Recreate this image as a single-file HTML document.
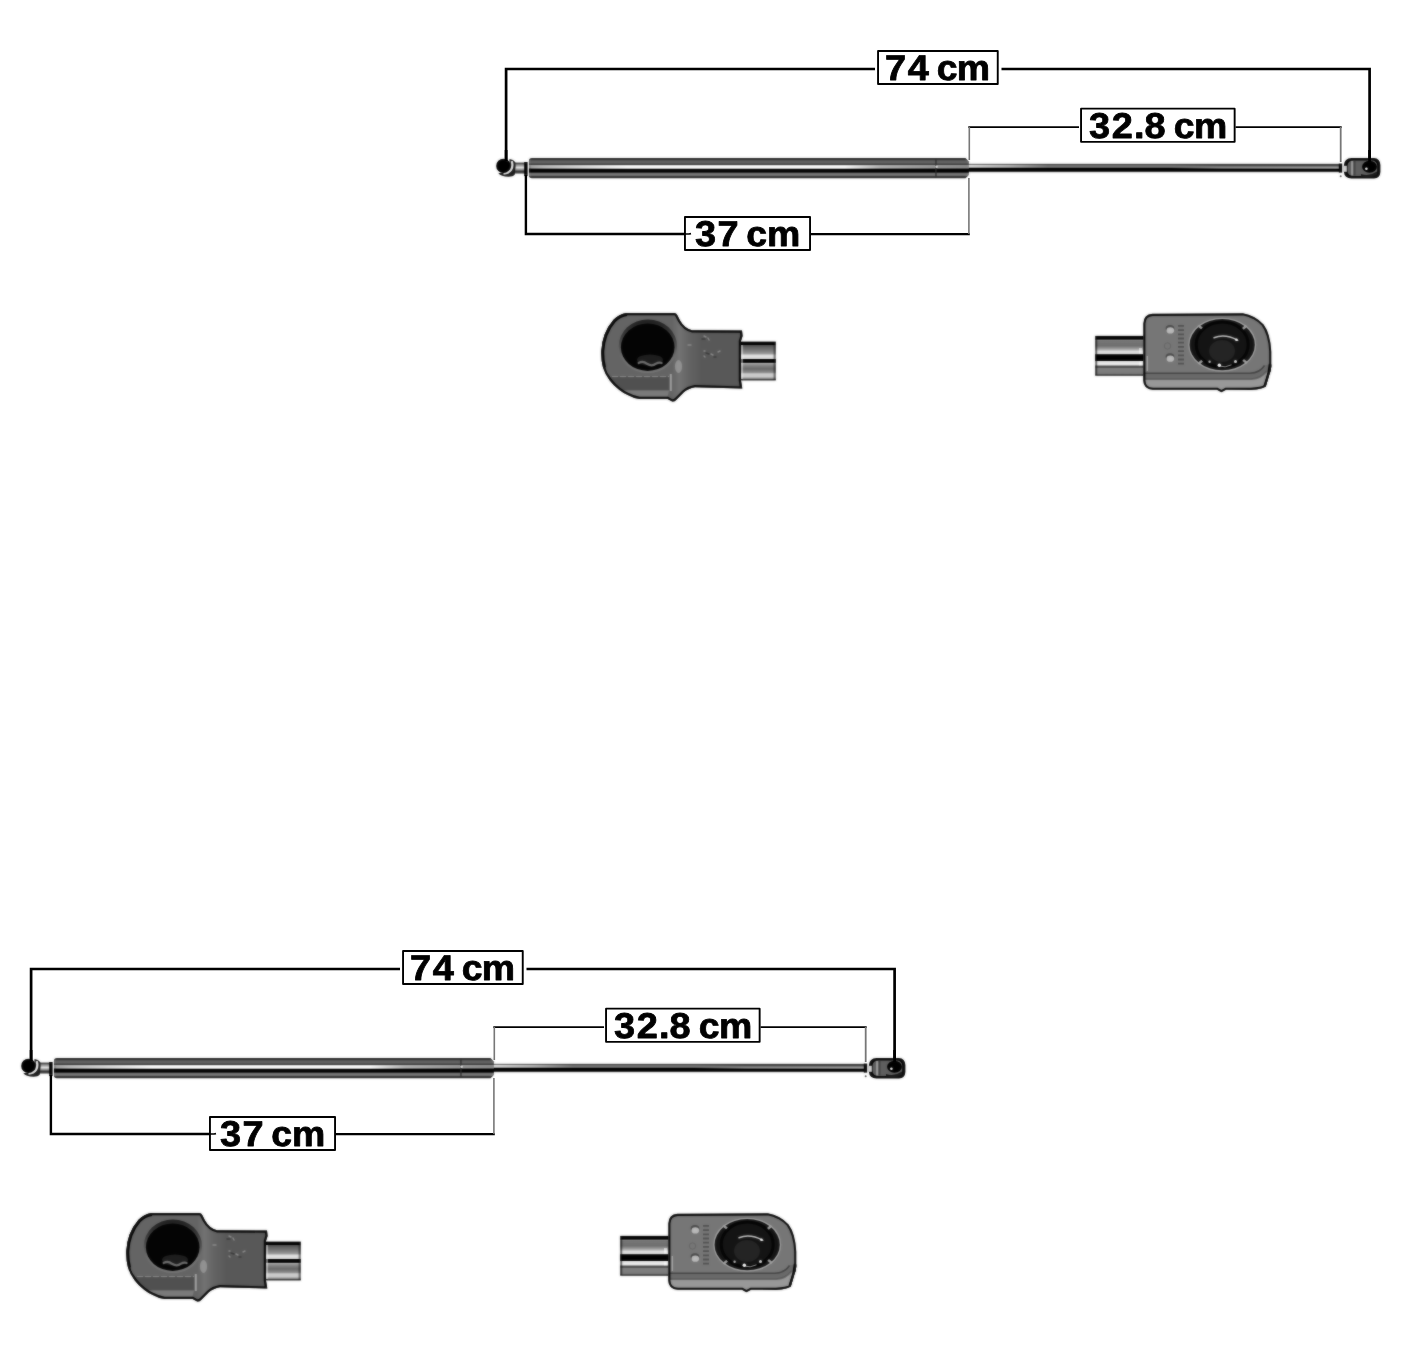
<!DOCTYPE html>
<html lang="es">
<head>
<meta charset="utf-8">
<title>74 cm</title>
<style>
  html,body{margin:0;padding:0;background:#fff;overflow:hidden;}
  body{width:1404px;height:1352px;position:relative;font-family:"Liberation Sans",sans-serif;}
  svg{position:absolute;left:0;top:0;display:block;}
  .lbl{font-family:"Liberation Sans",sans-serif;font-weight:700;font-size:35.8px;fill:#000;stroke:#000;stroke-width:0.8;stroke-linejoin:round;text-rendering:geometricPrecision;}
  .lbl .u{font-size:35.3px;}
</style>
</head>
<body>
<svg width="1404" height="1352" viewBox="0 0 1404 1352">
  <defs>
    <linearGradient id="gTube" x1="0" y1="0" x2="0" y2="1">
      <stop offset="0" stop-color="#303030"/>
      <stop offset="0.05" stop-color="#2a2a2a"/>
      <stop offset="0.09" stop-color="#3a3a3a"/>
      <stop offset="0.13" stop-color="#606060"/>
      <stop offset="0.23" stop-color="#646464"/>
      <stop offset="0.28" stop-color="#4a4a4a"/>
      <stop offset="0.34" stop-color="#3a3a3a"/>
      <stop offset="0.36" stop-color="#8c8c8c"/>
      <stop offset="0.50" stop-color="#8c8c8c"/>
      <stop offset="0.535" stop-color="#000"/>
      <stop offset="0.70" stop-color="#000"/>
      <stop offset="0.74" stop-color="#666"/>
      <stop offset="0.80" stop-color="#7a7a7a"/>
      <stop offset="0.87" stop-color="#6c6c6c"/>
      <stop offset="0.92" stop-color="#303030"/>
      <stop offset="1" stop-color="#2a2a2a"/>
    </linearGradient>
    <linearGradient id="gHi" x1="0" y1="0" x2="1" y2="0">
      <stop offset="0" stop-color="#fff" stop-opacity="0.2"/>
      <stop offset="0.03" stop-color="#fff" stop-opacity="0.4"/>
      <stop offset="0.12" stop-color="#fff" stop-opacity="0.7"/>
      <stop offset="0.22" stop-color="#fff" stop-opacity="1"/>
      <stop offset="0.72" stop-color="#fff" stop-opacity="1"/>
      <stop offset="0.80" stop-color="#fff" stop-opacity="0.35"/>
      <stop offset="0.92" stop-color="#fff" stop-opacity="0.1"/>
      <stop offset="1" stop-color="#fff" stop-opacity="0"/>
    </linearGradient>
    <linearGradient id="gRod" x1="0" y1="0" x2="0" y2="1">
      <stop offset="0" stop-color="#555"/>
      <stop offset="0.12" stop-color="#444"/>
      <stop offset="0.24" stop-color="#777"/>
      <stop offset="0.42" stop-color="#7c7c7c"/>
      <stop offset="0.50" stop-color="#000"/>
      <stop offset="0.84" stop-color="#000"/>
      <stop offset="1" stop-color="#777"/>
    </linearGradient>
    <linearGradient id="gRodA" x1="0" y1="0" x2="1" y2="0">
      <stop offset="0" stop-color="#e6e6e6" stop-opacity="0.9"/>
      <stop offset="0.5" stop-color="#ddd" stop-opacity="0.6"/>
      <stop offset="1" stop-color="#ddd" stop-opacity="0"/>
    </linearGradient>
    <linearGradient id="gRodB" x1="0" y1="0" x2="1" y2="0">
      <stop offset="0" stop-color="#aaa" stop-opacity="0"/>
      <stop offset="0.3" stop-color="#aaa" stop-opacity="0.6"/>
      <stop offset="1" stop-color="#b0b0b0" stop-opacity="0.8"/>
    </linearGradient>
    <linearGradient id="gRodC" x1="0" y1="0" x2="1" y2="0">
      <stop offset="0" stop-color="#333" stop-opacity="0"/>
      <stop offset="0.3" stop-color="#333" stop-opacity="0.6"/>
      <stop offset="1" stop-color="#333" stop-opacity="0.7"/>
    </linearGradient>
    <linearGradient id="gNeck" x1="0" y1="0" x2="0" y2="1">
      <stop offset="0" stop-color="#222"/>
      <stop offset="0.2" stop-color="#888"/>
      <stop offset="0.45" stop-color="#e0e0e0"/>
      <stop offset="0.62" stop-color="#999"/>
      <stop offset="0.8" stop-color="#333"/>
      <stop offset="1" stop-color="#555"/>
    </linearGradient>
    <linearGradient id="gPipe" x1="0" y1="0" x2="0" y2="1">
      <stop offset="0" stop-color="#111"/>
      <stop offset="0.10" stop-color="#222"/>
      <stop offset="0.16" stop-color="#888"/>
      <stop offset="0.30" stop-color="#9a9a9a"/>
      <stop offset="0.40" stop-color="#d8d8d8"/>
      <stop offset="0.47" stop-color="#444"/>
      <stop offset="0.53" stop-color="#111"/>
      <stop offset="0.58" stop-color="#777"/>
      <stop offset="0.70" stop-color="#9a9a9a"/>
      <stop offset="0.85" stop-color="#b5b5b5"/>
      <stop offset="0.95" stop-color="#888"/>
      <stop offset="1" stop-color="#555"/>
    </linearGradient>
    <filter id="soft" x="-5%" y="-5%" width="110%" height="110%" color-interpolation-filters="sRGB"><feGaussianBlur stdDeviation="0.8" result="b"/><feComposite in="b" in2="SourceGraphic" operator="arithmetic" k1="0" k2="0.55" k3="0.45" k4="0"/></filter>
    <filter id="softF" x="-10%" y="-10%" width="120%" height="120%" color-interpolation-filters="sRGB"><feGaussianBlur stdDeviation="0.8"/></filter>
    <filter id="soft2" x="-5%" y="-20%" width="110%" height="140%" color-interpolation-filters="sRGB"><feGaussianBlur stdDeviation="0.8" result="b"/><feComposite in="b" in2="SourceGraphic" operator="arithmetic" k1="0" k2="0.5" k3="0.5" k4="0"/></filter>


    <linearGradient id="gPipeL" x1="0" y1="0" x2="0" y2="1">
      <stop offset="0" stop-color="#000"/>
      <stop offset="0.085" stop-color="#000"/>
      <stop offset="0.10" stop-color="#555"/>
      <stop offset="0.20" stop-color="#707070"/>
      <stop offset="0.31" stop-color="#999"/>
      <stop offset="0.35" stop-color="#ddd"/>
      <stop offset="0.44" stop-color="#e2e2e2"/>
      <stop offset="0.455" stop-color="#000"/>
      <stop offset="0.535" stop-color="#000"/>
      <stop offset="0.55" stop-color="#c0c0c0"/>
      <stop offset="0.60" stop-color="#888"/>
      <stop offset="0.70" stop-color="#6a6a6a"/>
      <stop offset="0.79" stop-color="#888"/>
      <stop offset="0.83" stop-color="#ccc"/>
      <stop offset="0.91" stop-color="#c8c8c8"/>
      <stop offset="0.95" stop-color="#888"/>
      <stop offset="0.975" stop-color="#333"/>
      <stop offset="1" stop-color="#333"/>
    </linearGradient>
    <linearGradient id="gPipeR" x1="0" y1="0" x2="0" y2="1">
      <stop offset="0" stop-color="#000"/>
      <stop offset="0.085" stop-color="#000"/>
      <stop offset="0.10" stop-color="#9a9a9a"/>
      <stop offset="0.14" stop-color="#747474"/>
      <stop offset="0.25" stop-color="#6e6e6e"/>
      <stop offset="0.33" stop-color="#a0a0a0"/>
      <stop offset="0.39" stop-color="#dcdcdc"/>
      <stop offset="0.45" stop-color="#e4e4e4"/>
      <stop offset="0.47" stop-color="#000"/>
      <stop offset="0.62" stop-color="#000"/>
      <stop offset="0.64" stop-color="#ececec"/>
      <stop offset="0.73" stop-color="#e8e8e8"/>
      <stop offset="0.755" stop-color="#4a4a4a"/>
      <stop offset="0.79" stop-color="#4e4e4e"/>
      <stop offset="0.81" stop-color="#808080"/>
      <stop offset="0.95" stop-color="#7a7a7a"/>
      <stop offset="0.975" stop-color="#333"/>
      <stop offset="1" stop-color="#222"/>
    </linearGradient>
    <linearGradient id="gRing" x1="0" y1="0" x2="0" y2="1">
      <stop offset="0" stop-color="#1e1e1e"/>
      <stop offset="0.3" stop-color="#3a3a3a"/>
      <stop offset="0.7" stop-color="#707070"/>
      <stop offset="1" stop-color="#787878"/>
    </linearGradient>
    <clipPath id="cL"><path d="M626.8 313.1 H674.5 Q676.5 313.3 677.5 315.5 L680 320.5 Q684.5 328.5 692 330.2 L742 330.5 L742.6 336 L741 341 V380.5 L742.3 388.6 L695 387.2 Q688 388.5 683.8 392.3 L676.4 399.7 Q674 402.3 671.5 401.3 L667.5 399 H639.4 Q633 398 628.3 395.2 Q623 393 619.4 390 Q613.5 385.5 609.8 380.4 Q605 374.5 603.1 367.9 Q601 360 601.3 350.9 Q601.8 342 604.6 334.6 Q608 326 613.5 319.8 Q619 314.2 626.8 313.1 Z"/></clipPath>
    <clipPath id="cR"><path d="M1152.5 313.8 L1242.9 313.3 Q1249 314.5 1254 317 Q1259.5 320 1263.6 324.4 Q1267 329 1268.8 335.5 Q1271 343 1271.3 351.8 V366.6 Q1271 371 1269.5 374 L1265.8 386.5 Q1262 389.5 1251 389.9 L1226 389.8 L1221.4 392.3 L1217 389.8 H1153 Q1143.6 389.3 1143.3 380.5 V323.5 Q1143.6 314.3 1152.5 313.8 Z"/></clipPath>

    <linearGradient id="gShank" gradientUnits="userSpaceOnUse" x1="672" y1="0" x2="702" y2="0">
      <stop offset="0" stop-color="#646464"/>
      <stop offset="0.25" stop-color="#727272"/>
      <stop offset="0.55" stop-color="#646464"/>
      <stop offset="1" stop-color="#585858"/>
    </linearGradient>
  </defs>

  <!-- first diagram -->
  <g>
    <g>
      <!-- dimension lines -->
      <path d="M506.1 161 V69 H875" fill="none" stroke="#000" stroke-width="2.7"/>
      <path d="M1001.5 69 H1369.6 V162" fill="none" stroke="#000" stroke-width="2.7"/>
      <path d="M968.3 127.1 H1079" fill="none" stroke="#000" stroke-width="1.9"/>
      <path d="M1235.6 127.15 H1341.7" fill="none" stroke="#000" stroke-width="1.9"/>
      <path d="M969.3 127 V160" fill="none" stroke="#777" stroke-width="1.6"/>
      <path d="M1340.7 127 V162" fill="none" stroke="#777" stroke-width="1.8"/>
      <path d="M525.9 175 V234 H690" fill="none" stroke="#000" stroke-width="2.4"/>
      <path d="M811 234.05 H969.8" fill="none" stroke="#000" stroke-width="2.2"/>
      <path d="M968.9 178 V234" fill="none" stroke="#777" stroke-width="1.6"/>
      <!-- strut body -->
      <g filter="url(#soft2)">
        <rect x="966" y="163.8" width="376" height="8.4" fill="url(#gRod)"/>
        <rect x="968" y="164.7" width="80" height="2.8" fill="url(#gRodA)"/>
        <rect x="1170" y="164" width="170" height="2.4" fill="url(#gRodC)"/>
        <rect x="1170" y="166.7" width="170" height="2.1" fill="url(#gRodB)"/>
        <rect x="1338.8" y="163.6" width="3.4" height="9" fill="#0a0a0a"/>
        <circle cx="1340.7" cy="176.3" r="1" fill="#555"/>
        <path d="M532 158.1 H965.5 L968.9 161.5 V175 L965.5 178.2 H532 Q528.9 178.2 528.9 175 V161.3 Q528.9 158.1 532 158.1 Z" fill="url(#gTube)"/>
        <rect x="531" y="165.3" width="436" height="3.3" fill="url(#gHi)"/>
        <rect x="935.2" y="158.6" width="1.5" height="19.2" fill="#2a2a2a" opacity="0.8"/>
        <circle cx="936.6" cy="166.8" r="1.3" fill="#ddd"/>
        <!-- ball joint -->
        <rect x="514" y="162.6" width="11" height="11" fill="url(#gNeck)"/>
        <rect x="524.2" y="162" width="3.4" height="14" fill="#000"/>
        <path d="M509.5 159 Q513.6 159.4 515.3 162.2 L515.6 166 L514.8 174.6 Q513 176.8 508.5 176.8 Q501 176.4 498.3 173.2 L509 172 Z" fill="#1c1c1c"/>
        <path d="M511.6 161.2 Q513.4 165.5 511.2 169.6 Q508.8 173.2 503.5 173.6" fill="none" stroke="#e4e4e4" stroke-width="2.2"/>
        <circle cx="503.4" cy="165.9" r="7.2" fill="#000"/>
        <!-- eye end -->
        <path d="M1351.5 158.1 H1374 Q1380 158.6 1380.4 165 V172 Q1380 178.2 1374 178.6 H1351.5 Q1344.4 178 1343.9 172 V165 Q1344.4 158.6 1351.5 158.1 Z" fill="#0a0a0a"/>
        <rect x="1347.6" y="160.5" width="29.6" height="15.4" rx="5" fill="#5e5e5e"/>
        <rect x="1351.2" y="161" width="1.7" height="14.4" fill="#a0a0a0"/>
        <rect x="1354" y="161" width="1.5" height="14.4" fill="#444"/>
        <path d="M1361 174 Q1369 177 1377 171.5 L1377.5 175 Q1370 178.5 1361 176.5 Z" fill="#1a1a1a"/>
        <ellipse cx="1369.5" cy="166.8" rx="7.4" ry="6" fill="#000"/>
        <circle cx="1366.4" cy="168.8" r="1.3" fill="#f4f4f4"/>
        <rect x="1342.6" y="165.8" width="4.2" height="6" fill="#d0d0d0"/>
      </g>
      <path d="M506.1 161 V150" fill="none" stroke="#000" stroke-width="2.7"/>
      <path d="M1369.6 162 V150" fill="none" stroke="#000" stroke-width="2.7"/>
    </g>
    <g filter="url(#soft)">
      <g>
      <rect x="739.5" y="341.6" width="36.3" height="38.9" fill="url(#gPipeL)"/>
      <rect x="773.6" y="345" width="2.2" height="35" fill="#000" opacity="0.45"/>
      <rect x="740" y="345" width="3" height="34" fill="#fff" opacity="0.45"/>
      </g>
      <g clip-path="url(#cL)">
        <path d="M626.8 313.1 H674.5 Q676.5 313.3 677.5 315.5 L680 320.5 Q684.5 328.5 692 330.2 L742 330.5 L742.6 336 L741 341 V380.5 L742.3 388.6 L695 387.2 Q688 388.5 683.8 392.3 L676.4 399.7 Q674 402.3 671.5 401.3 L667.5 399 H639.4 Q633 398 628.3 395.2 Q623 393 619.4 390 Q613.5 385.5 609.8 380.4 Q605 374.5 603.1 367.9 Q601 360 601.3 350.9 Q601.8 342 604.6 334.6 Q608 326 613.5 319.8 Q619 314.2 626.8 313.1 Z" fill="#646464"/>
        <rect x="672" y="312" width="72" height="92" fill="url(#gShank)"/>
        <path d="M606 377 H669.5 V390.2 H616 Z" fill="#505050"/>
        <path d="M616 390.5 H669 L667 399 H636 Q624 396 616 390.5 Z" fill="#7a7a7a"/>
        <path d="M612 376.6 H669" fill="none" stroke="#8a8a8a" stroke-width="1" stroke-dasharray="6 2"/>
        <path d="M670.8 374 V391" fill="none" stroke="#a0a0a0" stroke-width="2"/>
        <path d="M605.5 370 Q611 386 627 393.5" fill="none" stroke="#909090" stroke-width="1.8"/>
        <ellipse cx="678.5" cy="366.5" rx="3.6" ry="6.5" fill="#a0a0a0" opacity="0.7"/>
        <path d="M704 336 l2 1 M708 338 l1 2 M688 345 l3 0 M704 351 l1 0 M704 356 l1 1 M711 354 l2 1 M718 352 l2 -1" fill="none" stroke="#8a8a8a" stroke-width="1.4" stroke-linecap="round"/>
        <path d="M702 339 l3 0 M706 353 l3 1 M714 357 l2 0" fill="none" stroke="#3c3c3c" stroke-width="1.4" stroke-linecap="round"/>
        <path d="M626.8 313.1 H674.5 Q676.5 313.3 677.5 315.5 L680 320.5 Q684.5 328.5 692 330.2 L742 330.5 L742.6 336 L741 341 V380.5 L742.3 388.6 L695 387.2 Q688 388.5 683.8 392.3 L676.4 399.7 Q674 402.3 671.5 401.3 L667.5 399 H639.4 Q633 398 628.3 395.2 Q623 393 619.4 390 Q613.5 385.5 609.8 380.4 Q605 374.5 603.1 367.9 Q601 360 601.3 350.9 Q601.8 342 604.6 334.6 Q608 326 613.5 319.8 Q619 314.2 626.8 313.1 Z" fill="none" stroke="#080808" stroke-width="4.4"/>
        <path d="M626.8 313.1 Q619 314.2 613.5 319.8 Q608 326 604.6 334.6 Q601.8 342 601.3 350.9 Q601 360 603.1 367.9" fill="none" stroke="#080808" stroke-width="6"/>
      </g>
      <ellipse cx="647.9" cy="346.2" rx="29.2" ry="26.8" fill="url(#gRing)"/>
      <ellipse cx="647.7" cy="347.2" rx="26.8" ry="23.7" fill="#040404"/>
      <ellipse cx="650" cy="360" rx="13" ry="5.5" fill="#1e1e1e"/>
      <path d="M638.6 363 Q643 360.3 647 363.8 Q652 367 656 363.6 Q659 362 661.6 363" fill="none" stroke="#6e6e6e" stroke-width="2.2" stroke-linecap="round"/>
    </g>
    <g filter="url(#soft)">
      <g>
      <rect x="1095.2" y="335.9" width="48.5" height="39.9" fill="url(#gPipeR)"/>
      <rect x="1095.2" y="339" width="2" height="36" fill="#000" opacity="0.55"/>
      <rect x="1139" y="348" width="3.2" height="6" fill="#fff" opacity="0.55"/>
      <rect x="1139" y="361" width="3.2" height="4.4" fill="#fff" opacity="0.6"/>
      </g>
      <g clip-path="url(#cR)">
        <path d="M1152.5 313.8 L1242.9 313.3 Q1249 314.5 1254 317 Q1259.5 320 1263.6 324.4 Q1267 329 1268.8 335.5 Q1271 343 1271.3 351.8 V366.6 Q1271 371 1269.5 374 L1265.8 386.5 Q1262 389.5 1251 389.9 L1226 389.8 L1221.4 392.3 L1217 389.8 H1153 Q1143.6 389.3 1143.3 380.5 V323.5 Q1143.6 314.3 1152.5 313.8 Z" fill="#767676"/>
        <path d="M1143 373.2 H1250 Q1260 373 1265 365 L1272 365 V392 H1143 Z" fill="#6a6a6a"/>
        <path d="M1143 380 H1252 Q1262 379 1267 372 L1272 372 V392 H1143 Z" fill="#989898"/>
        <path d="M1144 373.2 H1250 Q1260 373 1264.5 365.5" fill="none" stroke="#444" stroke-width="1.5"/>
        <path d="M1144 378.8 H1251 Q1261 378 1266 371" fill="none" stroke="#585858" stroke-width="1.1"/>
        <path d="M1147.3 356 V371" fill="none" stroke="#bdbdbd" stroke-width="1.4" opacity="0.7"/>
        <path d="M1181 325 V367" fill="none" stroke="#383838" stroke-width="6" stroke-dasharray="1.8 2.4" opacity="0.6"/>
        <ellipse cx="1170" cy="328.6" rx="4.4" ry="3.6" fill="#4a4a4a"/>
        <ellipse cx="1170.3" cy="330.4" rx="3.8" ry="3.1" fill="#b8b8b8"/>
        <ellipse cx="1170" cy="356.8" rx="4.4" ry="3.6" fill="#4a4a4a"/>
        <ellipse cx="1170.3" cy="358.7" rx="3.8" ry="3.1" fill="#b8b8b8"/>
        <circle cx="1167.5" cy="346" r="3.2" fill="none" stroke="#666" stroke-width="1"/>
        <path d="M1152.5 313.8 L1242.9 313.3 Q1249 314.5 1254 317 Q1259.5 320 1263.6 324.4 Q1267 329 1268.8 335.5 Q1271 343 1271.3 351.8 V366.6 Q1271 371 1269.5 374 L1265.8 386.5 Q1262 389.5 1251 389.9 L1226 389.8 L1221.4 392.3 L1217 389.8 H1153 Q1143.6 389.3 1143.3 380.5 V323.5 Q1143.6 314.3 1152.5 313.8 Z" fill="none" stroke="#080808" stroke-width="4.2"/>
        <path d="M1271 364 L1269.5 374 L1265.5 387" fill="none" stroke="#080808" stroke-width="4.5"/>
      </g>
      <ellipse cx="1222.2" cy="344.7" rx="34" ry="27" fill="#a2a2a2"/>
      <ellipse cx="1222.2" cy="344.7" rx="32.6" ry="25.6" fill="#141414"/>
      <path d="M1199.5 326.5 l3 2.4 M1245 327 l-3 2.6 M1246 362.3 l-3 -2.4 M1199.5 363 l3 -2.6" fill="none" stroke="#a0a0a0" stroke-width="2.4" stroke-linecap="round"/>
      <ellipse cx="1222.2" cy="344.5" rx="26" ry="22.5" fill="none" stroke="#050505" stroke-width="3"/>
      <ellipse cx="1222" cy="351" rx="13" ry="11" fill="#242424"/>
      <path d="M1214 337.7 Q1225 333.4 1237.7 340.3" fill="none" stroke="#c8c8c8" stroke-width="1.5" stroke-linecap="round"/>
      <circle cx="1236.4" cy="339.8" r="1.3" fill="#fff"/>
      <path d="M1219 366 Q1225 368.2 1231.5 364.8" fill="none" stroke="#999" stroke-width="1"/>
      <circle cx="1219.3" cy="365.3" r="1.7" fill="#fff"/>
      <circle cx="1235.5" cy="361.5" r="1.5" fill="#e0e0e0"/>
      <circle cx="1209.6" cy="361.8" r="1.2" fill="#bbb"/>
    </g>
    <g class="labels" opacity="0.999">
    <rect x="878.05" y="50.95" width="119.70" height="33.10" fill="#fff" stroke="#000" stroke-width="1.9" stroke-linejoin="round"/>
    <text class="lbl" transform="scale(1.060,1)" x="834.80 856.46 876.37 883.63 902.51" y="80">74 <tspan class="u">cm</tspan></text>
    <rect x="1081.05" y="108.65" width="153.60" height="33.20" fill="#fff" stroke="#000" stroke-width="1.9" stroke-linejoin="round"/>
    <text class="lbl" transform="scale(1.060,1)" x="1027.48 1048.74 1069.79 1079.72 1099.63 1107.36 1126.33" y="138">32.8 <tspan class="u">cm</tspan></text>
    <rect x="684.95" y="217.05" width="125.10" height="33.00" fill="#fff" stroke="#000" stroke-width="1.9" stroke-linejoin="round"/>
    <path d="M685 234.05 H689 L691 233.6" fill="none" stroke="#000" stroke-width="1.6"/>
    <text class="lbl" transform="scale(1.060,1)" x="655.68 676.94 696.85 704.10 723.50" y="246">37 <tspan class="u">cm</tspan></text>
    </g>
  </g>

  <!-- second diagram -->
  <g transform="translate(-475,900)">
    <g>
      <!-- dimension lines -->
      <path d="M506.1 161 V69 H875" fill="none" stroke="#000" stroke-width="2.7"/>
      <path d="M1001.5 69 H1369.6 V162" fill="none" stroke="#000" stroke-width="2.7"/>
      <path d="M968.3 127.1 H1079" fill="none" stroke="#000" stroke-width="1.9"/>
      <path d="M1235.6 127.15 H1341.7" fill="none" stroke="#000" stroke-width="1.9"/>
      <path d="M969.3 127 V160" fill="none" stroke="#777" stroke-width="1.6"/>
      <path d="M1340.7 127 V162" fill="none" stroke="#777" stroke-width="1.8"/>
      <path d="M525.9 175 V234 H690" fill="none" stroke="#000" stroke-width="2.4"/>
      <path d="M811 234.05 H969.8" fill="none" stroke="#000" stroke-width="2.2"/>
      <path d="M968.9 178 V234" fill="none" stroke="#777" stroke-width="1.6"/>
      <!-- strut body -->
      <g filter="url(#soft2)">
        <rect x="966" y="163.8" width="376" height="8.4" fill="url(#gRod)"/>
        <rect x="968" y="164.7" width="80" height="2.8" fill="url(#gRodA)"/>
        <rect x="1170" y="164" width="170" height="2.4" fill="url(#gRodC)"/>
        <rect x="1170" y="166.7" width="170" height="2.1" fill="url(#gRodB)"/>
        <rect x="1338.8" y="163.6" width="3.4" height="9" fill="#0a0a0a"/>
        <circle cx="1340.7" cy="176.3" r="1" fill="#555"/>
        <path d="M532 158.1 H965.5 L968.9 161.5 V175 L965.5 178.2 H532 Q528.9 178.2 528.9 175 V161.3 Q528.9 158.1 532 158.1 Z" fill="url(#gTube)"/>
        <rect x="531" y="165.3" width="436" height="3.3" fill="url(#gHi)"/>
        <rect x="935.2" y="158.6" width="1.5" height="19.2" fill="#2a2a2a" opacity="0.8"/>
        <circle cx="936.6" cy="166.8" r="1.3" fill="#ddd"/>
        <!-- ball joint -->
        <rect x="514" y="162.6" width="11" height="11" fill="url(#gNeck)"/>
        <rect x="524.2" y="162" width="3.4" height="14" fill="#000"/>
        <path d="M509.5 159 Q513.6 159.4 515.3 162.2 L515.6 166 L514.8 174.6 Q513 176.8 508.5 176.8 Q501 176.4 498.3 173.2 L509 172 Z" fill="#1c1c1c"/>
        <path d="M511.6 161.2 Q513.4 165.5 511.2 169.6 Q508.8 173.2 503.5 173.6" fill="none" stroke="#e4e4e4" stroke-width="2.2"/>
        <circle cx="503.4" cy="165.9" r="7.2" fill="#000"/>
        <!-- eye end -->
        <path d="M1351.5 158.1 H1374 Q1380 158.6 1380.4 165 V172 Q1380 178.2 1374 178.6 H1351.5 Q1344.4 178 1343.9 172 V165 Q1344.4 158.6 1351.5 158.1 Z" fill="#0a0a0a"/>
        <rect x="1347.6" y="160.5" width="29.6" height="15.4" rx="5" fill="#5e5e5e"/>
        <rect x="1351.2" y="161" width="1.7" height="14.4" fill="#a0a0a0"/>
        <rect x="1354" y="161" width="1.5" height="14.4" fill="#444"/>
        <path d="M1361 174 Q1369 177 1377 171.5 L1377.5 175 Q1370 178.5 1361 176.5 Z" fill="#1a1a1a"/>
        <ellipse cx="1369.5" cy="166.8" rx="7.4" ry="6" fill="#000"/>
        <circle cx="1366.4" cy="168.8" r="1.3" fill="#f4f4f4"/>
        <rect x="1342.6" y="165.8" width="4.2" height="6" fill="#d0d0d0"/>
      </g>
      <path d="M506.1 161 V150" fill="none" stroke="#000" stroke-width="2.7"/>
      <path d="M1369.6 162 V150" fill="none" stroke="#000" stroke-width="2.7"/>
    </g>
    <g filter="url(#soft)">
      <g>
      <rect x="739.5" y="341.6" width="36.3" height="38.9" fill="url(#gPipeL)"/>
      <rect x="773.6" y="345" width="2.2" height="35" fill="#000" opacity="0.45"/>
      <rect x="740" y="345" width="3" height="34" fill="#fff" opacity="0.45"/>
      </g>
      <g clip-path="url(#cL)">
        <path d="M626.8 313.1 H674.5 Q676.5 313.3 677.5 315.5 L680 320.5 Q684.5 328.5 692 330.2 L742 330.5 L742.6 336 L741 341 V380.5 L742.3 388.6 L695 387.2 Q688 388.5 683.8 392.3 L676.4 399.7 Q674 402.3 671.5 401.3 L667.5 399 H639.4 Q633 398 628.3 395.2 Q623 393 619.4 390 Q613.5 385.5 609.8 380.4 Q605 374.5 603.1 367.9 Q601 360 601.3 350.9 Q601.8 342 604.6 334.6 Q608 326 613.5 319.8 Q619 314.2 626.8 313.1 Z" fill="#646464"/>
        <rect x="672" y="312" width="72" height="92" fill="url(#gShank)"/>
        <path d="M606 377 H669.5 V390.2 H616 Z" fill="#505050"/>
        <path d="M616 390.5 H669 L667 399 H636 Q624 396 616 390.5 Z" fill="#7a7a7a"/>
        <path d="M612 376.6 H669" fill="none" stroke="#8a8a8a" stroke-width="1" stroke-dasharray="6 2"/>
        <path d="M670.8 374 V391" fill="none" stroke="#a0a0a0" stroke-width="2"/>
        <path d="M605.5 370 Q611 386 627 393.5" fill="none" stroke="#909090" stroke-width="1.8"/>
        <ellipse cx="678.5" cy="366.5" rx="3.6" ry="6.5" fill="#a0a0a0" opacity="0.7"/>
        <path d="M704 336 l2 1 M708 338 l1 2 M688 345 l3 0 M704 351 l1 0 M704 356 l1 1 M711 354 l2 1 M718 352 l2 -1" fill="none" stroke="#8a8a8a" stroke-width="1.4" stroke-linecap="round"/>
        <path d="M702 339 l3 0 M706 353 l3 1 M714 357 l2 0" fill="none" stroke="#3c3c3c" stroke-width="1.4" stroke-linecap="round"/>
        <path d="M626.8 313.1 H674.5 Q676.5 313.3 677.5 315.5 L680 320.5 Q684.5 328.5 692 330.2 L742 330.5 L742.6 336 L741 341 V380.5 L742.3 388.6 L695 387.2 Q688 388.5 683.8 392.3 L676.4 399.7 Q674 402.3 671.5 401.3 L667.5 399 H639.4 Q633 398 628.3 395.2 Q623 393 619.4 390 Q613.5 385.5 609.8 380.4 Q605 374.5 603.1 367.9 Q601 360 601.3 350.9 Q601.8 342 604.6 334.6 Q608 326 613.5 319.8 Q619 314.2 626.8 313.1 Z" fill="none" stroke="#080808" stroke-width="4.4"/>
        <path d="M626.8 313.1 Q619 314.2 613.5 319.8 Q608 326 604.6 334.6 Q601.8 342 601.3 350.9 Q601 360 603.1 367.9" fill="none" stroke="#080808" stroke-width="6"/>
      </g>
      <ellipse cx="647.9" cy="346.2" rx="29.2" ry="26.8" fill="url(#gRing)"/>
      <ellipse cx="647.7" cy="347.2" rx="26.8" ry="23.7" fill="#040404"/>
      <ellipse cx="650" cy="360" rx="13" ry="5.5" fill="#1e1e1e"/>
      <path d="M638.6 363 Q643 360.3 647 363.8 Q652 367 656 363.6 Q659 362 661.6 363" fill="none" stroke="#6e6e6e" stroke-width="2.2" stroke-linecap="round"/>
    </g>
    <g filter="url(#soft)">
      <g>
      <rect x="1095.2" y="335.9" width="48.5" height="39.9" fill="url(#gPipeR)"/>
      <rect x="1095.2" y="339" width="2" height="36" fill="#000" opacity="0.55"/>
      <rect x="1139" y="348" width="3.2" height="6" fill="#fff" opacity="0.55"/>
      <rect x="1139" y="361" width="3.2" height="4.4" fill="#fff" opacity="0.6"/>
      </g>
      <g clip-path="url(#cR)">
        <path d="M1152.5 313.8 L1242.9 313.3 Q1249 314.5 1254 317 Q1259.5 320 1263.6 324.4 Q1267 329 1268.8 335.5 Q1271 343 1271.3 351.8 V366.6 Q1271 371 1269.5 374 L1265.8 386.5 Q1262 389.5 1251 389.9 L1226 389.8 L1221.4 392.3 L1217 389.8 H1153 Q1143.6 389.3 1143.3 380.5 V323.5 Q1143.6 314.3 1152.5 313.8 Z" fill="#767676"/>
        <path d="M1143 373.2 H1250 Q1260 373 1265 365 L1272 365 V392 H1143 Z" fill="#6a6a6a"/>
        <path d="M1143 380 H1252 Q1262 379 1267 372 L1272 372 V392 H1143 Z" fill="#989898"/>
        <path d="M1144 373.2 H1250 Q1260 373 1264.5 365.5" fill="none" stroke="#444" stroke-width="1.5"/>
        <path d="M1144 378.8 H1251 Q1261 378 1266 371" fill="none" stroke="#585858" stroke-width="1.1"/>
        <path d="M1147.3 356 V371" fill="none" stroke="#bdbdbd" stroke-width="1.4" opacity="0.7"/>
        <path d="M1181 325 V367" fill="none" stroke="#383838" stroke-width="6" stroke-dasharray="1.8 2.4" opacity="0.6"/>
        <ellipse cx="1170" cy="328.6" rx="4.4" ry="3.6" fill="#4a4a4a"/>
        <ellipse cx="1170.3" cy="330.4" rx="3.8" ry="3.1" fill="#b8b8b8"/>
        <ellipse cx="1170" cy="356.8" rx="4.4" ry="3.6" fill="#4a4a4a"/>
        <ellipse cx="1170.3" cy="358.7" rx="3.8" ry="3.1" fill="#b8b8b8"/>
        <circle cx="1167.5" cy="346" r="3.2" fill="none" stroke="#666" stroke-width="1"/>
        <path d="M1152.5 313.8 L1242.9 313.3 Q1249 314.5 1254 317 Q1259.5 320 1263.6 324.4 Q1267 329 1268.8 335.5 Q1271 343 1271.3 351.8 V366.6 Q1271 371 1269.5 374 L1265.8 386.5 Q1262 389.5 1251 389.9 L1226 389.8 L1221.4 392.3 L1217 389.8 H1153 Q1143.6 389.3 1143.3 380.5 V323.5 Q1143.6 314.3 1152.5 313.8 Z" fill="none" stroke="#080808" stroke-width="4.2"/>
        <path d="M1271 364 L1269.5 374 L1265.5 387" fill="none" stroke="#080808" stroke-width="4.5"/>
      </g>
      <ellipse cx="1222.2" cy="344.7" rx="34" ry="27" fill="#a2a2a2"/>
      <ellipse cx="1222.2" cy="344.7" rx="32.6" ry="25.6" fill="#141414"/>
      <path d="M1199.5 326.5 l3 2.4 M1245 327 l-3 2.6 M1246 362.3 l-3 -2.4 M1199.5 363 l3 -2.6" fill="none" stroke="#a0a0a0" stroke-width="2.4" stroke-linecap="round"/>
      <ellipse cx="1222.2" cy="344.5" rx="26" ry="22.5" fill="none" stroke="#050505" stroke-width="3"/>
      <ellipse cx="1222" cy="351" rx="13" ry="11" fill="#242424"/>
      <path d="M1214 337.7 Q1225 333.4 1237.7 340.3" fill="none" stroke="#c8c8c8" stroke-width="1.5" stroke-linecap="round"/>
      <circle cx="1236.4" cy="339.8" r="1.3" fill="#fff"/>
      <path d="M1219 366 Q1225 368.2 1231.5 364.8" fill="none" stroke="#999" stroke-width="1"/>
      <circle cx="1219.3" cy="365.3" r="1.7" fill="#fff"/>
      <circle cx="1235.5" cy="361.5" r="1.5" fill="#e0e0e0"/>
      <circle cx="1209.6" cy="361.8" r="1.2" fill="#bbb"/>
    </g>
    <g class="labels" opacity="0.999">
    <rect x="878.05" y="50.95" width="119.70" height="33.10" fill="#fff" stroke="#000" stroke-width="1.9" stroke-linejoin="round"/>
    <text class="lbl" transform="scale(1.060,1)" x="834.80 856.46 876.37 883.63 902.51" y="80">74 <tspan class="u">cm</tspan></text>
    <rect x="1081.05" y="108.65" width="153.60" height="33.20" fill="#fff" stroke="#000" stroke-width="1.9" stroke-linejoin="round"/>
    <text class="lbl" transform="scale(1.060,1)" x="1027.48 1048.74 1069.79 1079.72 1099.63 1107.36 1126.33" y="138">32.8 <tspan class="u">cm</tspan></text>
    <rect x="684.95" y="217.05" width="125.10" height="33.00" fill="#fff" stroke="#000" stroke-width="1.9" stroke-linejoin="round"/>
    <path d="M685 234.05 H689 L691 233.6" fill="none" stroke="#000" stroke-width="1.6"/>
    <text class="lbl" transform="scale(1.060,1)" x="655.68 676.94 696.85 704.10 723.50" y="246">37 <tspan class="u">cm</tspan></text>
    </g>
  </g>
</svg>
</body>
</html>
